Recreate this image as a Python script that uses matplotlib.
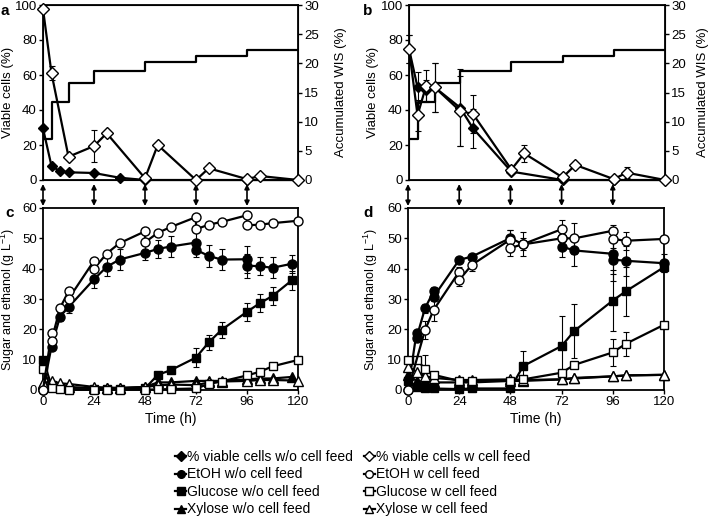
import matplotlib
matplotlib.use('Agg')
import matplotlib.pyplot as plt
from matplotlib.lines import Line2D

plt.rcParams['font.family'] = ['Liberation Sans', 'DejaVu Sans']
plt.rcParams['font.size'] = 10
plt.rcParams['mathtext.default'] = 'regular'

# ---- data: viable cells (panels a, b) ----
wis_t = [0, 4, 12, 24, 48, 72, 96, 120]
wis_val = [7.0, 13.3, 16.6, 18.7, 20.3, 21.3, 22.3, 22.3]
feed_times = [0, 24, 48, 72, 96]

a_wo_t = [0, 4, 8, 12, 24, 36, 48, 72, 96, 120]
a_wo = [29.5, 8, 5, 4.4, 4, 1.3, 0, 0, 0, 0]
a_w_t = [0, 4, 12, 24, 30, 48, 54, 72, 78, 96, 102, 120]
a_w = [97.7, 61, 13.3, 19.4, 26.7, 1, 20, 0, 6.7, 0.5, 2.3, 0]
a_w_err = [0, 4, 0, 9, 0, 0, 0, 0, 0, 0, 0, 0]

b_wo_t = [0, 4, 8, 12, 24, 30, 48, 72, 96, 120]
b_wo = [75, 53, 51.4, 53, 41.3, 29.5, 4.8, 0, 0, 0]
b_wo_err = [8, 9, 6, 14, 22, 11, 1, 0, 0, 0]
b_w_t = [0, 4, 8, 12, 24, 30, 48, 54, 72, 78, 96, 102, 120]
b_w = [75, 37, 53.7, 53, 39.4, 37.7, 6, 15.2, 1.5, 8.6, 0.5, 4.2, 0]
b_w_err = [8, 9, 9, 14, 20, 11, 1, 5, 0, 0, 0, 3, 0]

# ---- data: sugars and ethanol, panel c ----
c_etoh_wo_t = [0, 4, 8, 12, 24, 30, 36, 48, 54, 60, 72, 72, 78, 84, 96, 96, 102, 108, 117]
c_etoh_wo = [0, 14.3, 24.2, 27.3, 36.5, 40.6, 43, 45.2, 46.5, 47.3, 48.6, 46.2, 44.2, 43, 43.1, 41, 40.8, 40.3, 41.6]
c_etoh_wo_err = [0, 1, 1.5, 2, 3, 3, 3.5, 2.5, 3, 3.5, 3.5, 2.5, 3.5, 3.5, 4.5, 4, 3, 3.5, 3]
c_etoh_w_t = [0, 4, 4, 8, 12, 12, 24, 24, 30, 36, 48, 48, 54, 60, 72, 72, 78, 84, 96, 96, 102, 108, 120]
c_etoh_w = [0, 18.7, 16.3, 27, 32.5, 30, 42.6, 40, 45, 48.4, 52.3, 48.7, 51.8, 53.7, 57, 53, 54.5, 55.4, 57.6, 54.3, 54.5, 55, 55.8]

c_wo_t = [0, 4, 8, 12, 24, 30, 36, 48, 54, 60, 72, 78, 84, 96, 102, 108, 117]
c_glc_wo = [10, 1.5, 0.5, 0.3, 0.2, 0.2, 0.2, 0.5, 5, 6.5, 10.7, 15.7, 19.8, 25.8, 28.6, 31, 36.1]
c_glc_wo_err = [0, 0, 0, 0, 0, 0, 0, 0, 0.8, 1, 3, 2.5, 2.5, 3, 3, 3, 3]
c_xyl_wo = [2, 1.8, 1.2, 1, 0.6, 0.6, 0.6, 1, 2.5, 2.5, 3, 3, 3, 3.5, 3.8, 3.8, 4.3]
c_w_t = [0, 4, 8, 12, 24, 30, 36, 48, 54, 60, 72, 78, 84, 96, 102, 108, 120]
c_glc_w = [7, 0.5, 0.2, 0.1, 0.1, 0.1, 0.1, 0.1, 0.2, 0.3, 0.5, 2, 2.8, 4.8, 6, 7.8, 9.9]
c_xyl_w = [2.2, 3, 2.2, 2, 1, 0.8, 0.7, 1, 1.5, 1.8, 1.6, 2.5, 2.8, 3, 3.3, 3.3, 3.1]

# ---- data: sugars and ethanol, panel d ----
d_etoh_wo_t = [0, 4, 4, 8, 12, 12, 24, 30, 48, 54, 72, 72, 78, 96, 96, 102, 120]
d_etoh_wo = [0, 18.9, 17.2, 27, 32.5, 30.7, 42.9, 44, 50.1, 48, 50, 47.3, 46, 44.9, 43, 42.6, 41.8]
d_etoh_wo_err = [0, 1, 1, 1.5, 1.5, 1.5, 1, 1, 2.5, 2, 3, 3.5, 5, 6.5, 7, 5, 3]
d_etoh_w_t = [0, 8, 12, 24, 24, 30, 48, 48, 54, 72, 72, 78, 96, 96, 102, 120]
d_etoh_w = [0, 19.8, 26.4, 39, 36.3, 41.3, 49.6, 46.8, 48.1, 53, 50, 50, 52.5, 49.8, 49.2, 49.8]
d_etoh_w_err = [0, 3, 3.5, 1.5, 2, 2, 3, 2.5, 4, 3, 3, 5, 2, 3, 3, 1]

d_t = [0, 4, 8, 12, 24, 30, 48, 54, 72, 78, 96, 102, 120]
d_glc_wo = [3, 1, 0.5, 0.5, 0.3, 0.5, 0.5, 7.9, 14.5, 19.5, 29.5, 32.5, 40.5]
d_glc_wo_err = [0, 0, 0, 0, 0, 0, 0.5, 5, 10, 9, 10, 8, 1.5]
d_glc_w = [9.9, 10, 7, 5, 3, 3, 3, 3.5, 5.7, 8.3, 12.4, 15.2, 21.5]
d_glc_w_err = [0, 0, 4.5, 0, 0, 0, 0, 0, 0, 0, 4.5, 4, 0]
d_xyl_wo = [5, 3, 2.5, 2.5, 2.5, 2.5, 3, 3, 3.5, 3.8, 4.5, 4.8, 5]
d_xyl_w = [7.7, 6, 4.5, 4, 3.3, 3.3, 3.5, 3.3, 3.5, 4, 4.5, 4.8, 5]

# marker styles
filled = dict(color='k', mfc='k', mec='k', lw=1.6, clip_on=False, zorder=3)
hollow = dict(color='k', mfc='white', mec='k', mew=1.0, lw=1.6, clip_on=False, zorder=4)
err_kw = dict(fmt='none', ecolor='k', elinewidth=0.8, capsize=2, capthick=0.8, clip_on=False, zorder=2)

W, H = 709, 516
fig = plt.figure(figsize=(W / 100, H / 100), dpi=100)

def box(x0, y0, x1, y1):
    return [x0 / W, 1 - y1 / H, (x1 - x0) / W, (y1 - y0) / H]

ax_a = fig.add_axes(box(43, 5, 298, 180))
ax_b = fig.add_axes(box(409, 5, 665, 180))
ax_c = fig.add_axes(box(43, 208, 298, 390))
ax_d = fig.add_axes(box(408, 208, 664, 390))

for ax in (ax_a, ax_b, ax_c, ax_d):
    for sp in ax.spines.values():
        sp.set_linewidth(1.3)
    ax.tick_params(direction='out', length=3, width=1, labelsize=9.5, pad=1.5)
    ax.set_xlim(0, 120)

# viable cell panels with WIS on right axis
def viable_panel(ax, wo_t, wo, wo_err, w_t, w, w_err, label, lab_x, right_x, tag_x):
    ax.errorbar(wo_t, wo, yerr=wo_err, **err_kw)
    ax.errorbar(w_t, w, yerr=w_err, **err_kw)
    ax.plot(wo_t, wo, marker='D', ms=5.5, **filled)
    ax.plot(w_t, w, marker='D', ms=6, **hollow)
    ax.set_ylim(0, 100)
    ax.set_yticks(range(0, 101, 20))
    ax.set_xticks([])
    ax.set_ylabel('Viable cells (%)', fontsize=9.5)
    ax.yaxis.set_label_coords(lab_x, 0.5)
    ax2 = ax.twinx()
    ax2.step(wis_t, wis_val, where='post', color='k', lw=1.6, zorder=1)
    ax2.set_ylim(0, 30)
    ax2.set_yticks(range(0, 31, 5))
    ax2.tick_params(direction='out', length=3, width=1, labelsize=9.5, pad=1.5)
    ax2.set_ylabel('Accumulated WIS (%)', fontsize=9.5)
    ax2.yaxis.set_label_coords(right_x, 0.5)
    ax.set_zorder(ax2.get_zorder() + 1)
    ax.patch.set_visible(False)
    ax.text(tag_x, 1.005, label, transform=ax.transAxes, fontsize=11,
            fontweight='bold', va='top')

viable_panel(ax_a, a_wo_t, a_wo, [0] * len(a_wo), a_w_t, a_w, a_w_err, 'a', -0.115, 1.145, -0.165)
viable_panel(ax_b, b_wo_t, b_wo, b_wo_err, b_w_t, b_w, b_w_err, 'b', -0.117, 1.125, -0.18)

# sugar / ethanol panels
def sugar_panel(ax, series, label, lab_x, tag_x):
    for t, y, e, mk, ms, style in series:
        if e is not None:
            ax.errorbar(t, y, yerr=e, **err_kw)
        ax.plot(t, y, marker=mk, ms=ms, **style)
    ax.set_ylim(0, 60)
    ax.set_yticks(range(0, 61, 10))
    ax.set_xticks(range(0, 121, 24))
    ax.set_xlabel('Time (h)', fontsize=10, labelpad=3)
    ax.set_ylabel('Sugar and ethanol (g L$^{-1}$)', fontsize=9)
    ax.yaxis.set_label_coords(lab_x, 0.5)
    ax.text(tag_x, 1.01, label, transform=ax.transAxes, fontsize=11,
            fontweight='bold', va='top')
    # cell feed arrows between panels
    for t in feed_times:
        ax.annotate('', xy=(t, 1 + 2 / 182), xytext=(t, 1 + 24 / 182),
                    xycoords=('data', 'axes fraction'), textcoords=('data', 'axes fraction'),
                    arrowprops=dict(arrowstyle='<|-|>', color='k', lw=1.2,
                                    mutation_scale=7, shrinkA=0, shrinkB=0),
                    annotation_clip=False)

sugar_panel(ax_c, [
    (c_w_t, c_xyl_w, None, '^', 6.5, hollow),
    (c_wo_t, c_xyl_wo, None, '^', 6.5, filled),
    (c_w_t, c_glc_w, None, 's', 6, hollow),
    (c_wo_t, c_glc_wo, c_glc_wo_err, 's', 6, filled),
    (c_etoh_wo_t, c_etoh_wo, c_etoh_wo_err, 'o', 6.5, filled),
    (c_etoh_w_t, c_etoh_w, None, 'o', 6.5, hollow),
], 'c', -0.103, -0.149)

sugar_panel(ax_d, [
    (d_t, d_xyl_w, None, '^', 6.5, hollow),
    (d_t, d_xyl_wo, None, '^', 6.5, filled),
    (d_t, d_glc_w, d_glc_w_err, 's', 6, hollow),
    (d_t, d_glc_wo, d_glc_wo_err, 's', 6, filled),
    (d_etoh_wo_t, d_etoh_wo, d_etoh_wo_err, 'o', 6.5, filled),
    (d_etoh_w_t, d_etoh_w, d_etoh_w_err, 'o', 6.5, hollow),
], 'd', -0.11, -0.176)

# shared legend at the bottom
def handle(mk, style):
    kw = {k: v for k, v in style.items() if k not in ('clip_on', 'zorder')}
    return Line2D([], [], marker=mk, ms=5.5, **kw)

handles = [handle('D', filled), handle('o', filled), handle('s', filled), handle('^', filled),
           handle('D', hollow), handle('o', hollow), handle('s', hollow), handle('^', hollow)]
labels = ['% viable cells w/o cell feed', 'EtOH w/o cell feed', 'Glucose w/o cell feed', 'Xylose w/o cell feed',
          '% viable cells w cell feed', 'EtOH w cell feed', 'Glucose w cell feed', 'Xylose w cell feed']
fig.legend(handles, labels, ncol=2, loc='upper left', bbox_to_anchor=(168 / W, 1 - 443 / H),
           frameon=False, fontsize=10, handlelength=0.8, handletextpad=0.1,
           columnspacing=0.75, labelspacing=0.25, borderpad=0)

plt.savefig('out.png', dpi=100)
